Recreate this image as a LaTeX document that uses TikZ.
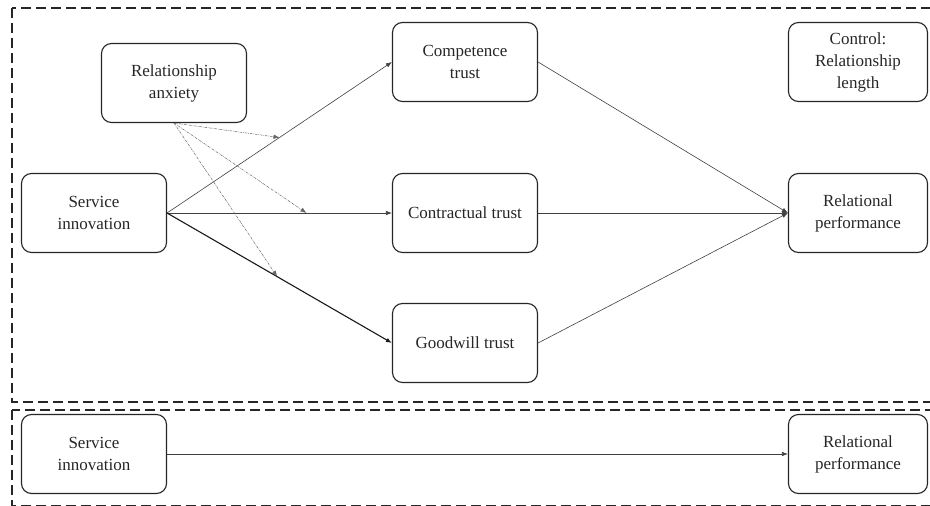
\documentclass[tikz,border=0pt]{standalone}
\usepackage{fontspec}
\setmainfont{Liberation Serif}
\usetikzlibrary{arrows.meta,positioning}

\begin{document}
\begin{tikzpicture}[->,>={Latex[length=6pt,width=4.5pt]},x=1pt,y=-1pt,
  var/.style={draw=black!85,rounded corners=10pt,minimum width=145pt,minimum height=79pt,
    align=center,line width=1.1pt,text=black!85,font=\fontsize{17}{22}\selectfont},
  link/.style={line width=0.6pt,black!75},
  moder/.style={line width=0.5pt,black!60,dash pattern=on 2.5pt off 1pt on 0.6pt off 1pt},
  frame/.style={-,line width=1.6pt,draw=black!85,dash pattern=on 10pt off 5pt}]
  \useasboundingbox (0,0) rectangle (930,506);

  % frames
  \draw[frame] (12,8) rectangle (940,402);
  \draw[frame] (12,410) rectangle (940,506);

  % model
  \node[var] (ra) at (174,83)  {Relationship\\anxiety};
  \node[var] (si) at (94,213)  {Service\\innovation};
  \node[var] (ct) at (465,62)  {Competence\\trust};
  \node[var] (kt) at (465,213) {Contractual trust};
  \node[var] (gt) at (465,343) {Goodwill trust};
  \node[var,minimum width=139pt] (cl) at (858,62)  {Control:\\Relationship\\length};
  \node[var,minimum width=139pt] (rp) at (858,213) {Relational\\performance};

  \path[link] (si.east) edge node[coordinate,pos=.5]  (m1) {} (ct.west)
              (si.east) edge node[coordinate,pos=.62] (m2) {} (kt.west)
              (si.east) edge[line width=1.1pt,black!90] node[coordinate,pos=.49] (m3) {} (gt.west)
              (ct.east) edge (rp.west)
              (kt.east) edge (rp.west)
              (gt.east) edge (rp.west);

  \path[moder] (ra.south) edge (m1) edge (m2) edge (m3);

  % direct effect
  \node[var] (si2) at (94,454) {Service\\innovation};
  \node[var,minimum width=139pt] (rp2) at (858,454) {Relational\\performance};
  \draw[link] (si2) -- (rp2);
\end{tikzpicture}
\end{document}
